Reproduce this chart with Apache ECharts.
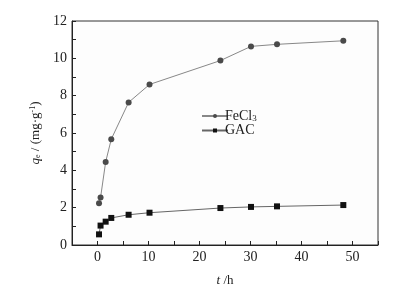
<!DOCTYPE html>
<html lang="en">
<head>
  <meta charset="UTF-8">
  <title>q_e vs t</title>
  <style>
    body { margin: 0; background: #fff; }
    #chart { width: 395px; height: 286px; }
  </style>
</head>
<body>
  <div id="chart"></div>
  <script src="https://cdn.jsdelivr.net/npm/echarts@6/dist/echarts.min.js"></script>
  <script>
    // time (h)
    var timeFe = [0.3, 0.6, 1.6, 2.7, 6.1, 10.2, 24.1, 30.1, 35.2, 48.2]
    var qFe = [2.24, 2.54, 4.45, 5.67, 7.64, 8.6, 9.88, 10.64, 10.75, 10.94]
    var timeGac = [0.3, 0.6, 1.6, 2.7, 6.1, 10.2, 24.1, 30.1, 35.2, 48.2]
    var qGac = [0.57, 1.04, 1.25, 1.45, 1.62, 1.73, 1.98, 2.04, 2.07, 2.14]
    var xTicks = [0, 10, 20, 30, 40, 50]
    var yTicks = [0, 2, 4, 6, 8, 10, 12]

    function pairs(xs, ys) {
      var out = []
      for (var i = 0; i < xs.length; i++) out.push([xs[i], ys[i]])
      return out
    }

    var serif = '"Liberation Serif", "DejaVu Serif", serif'
    var chart = echarts.init(document.getElementById('chart'))
    var option = {
      animation: false,
      grid: {
        left: 72, right: 17, top: 21, bottom: 41,
        outerBoundsMode: 'none',
        show: true, borderColor: '#333', borderWidth: 1, backgroundColor: '#fdfdfd'
      },
      legend: {
        orient: 'vertical',
        left: 196, top: 104,
        itemWidth: 26, itemHeight: 5, itemGap: 0,
        data: ['FeCl3', 'GAC'],
        formatter: function (name) {
          return name === 'FeCl3' ? '{a|FeCl}{s|3}' : '{a|GAC}'
        },
        textStyle: {
          padding: [0, 0, 0, -8],
          rich: {
            a: { fontFamily: serif, fontSize: 14, color: '#222' },
            s: { fontFamily: serif, fontSize: 9, color: '#222', padding: [6, 0, 0, 0] }
          }
        }
      },
      xAxis: {
        type: 'value', min: -5, max: 55, interval: 5,
        name: '{i|t} /h',
        nameLocation: 'middle', nameGap: 29,
        nameTextStyle: {
          fontFamily: serif, fontSize: 13, color: '#222',
          rich: { i: { fontFamily: serif, fontStyle: 'italic', fontSize: 13, color: '#222' } }
        },
        axisLine: { onZero: false, lineStyle: { color: '#222' } },
        axisTick: { inside: true, length: 4, lineStyle: { color: '#222' } },
        splitLine: { show: false },
        axisLabel: {
          fontFamily: serif, fontSize: 14, color: '#222', margin: 5,
          formatter: function (v) { return xTicks.indexOf(v) >= 0 ? String(v) : '' }
        }
      },
      yAxis: {
        type: 'value', min: 0, max: 12, interval: 1,
        name: '{i|q}{s|e} / (mg·g{p|-1})',
        nameLocation: 'middle', nameGap: 30, nameRotate: 90,
        nameTextStyle: {
          fontFamily: serif, fontSize: 13, color: '#222',
          rich: {
            i: { fontFamily: serif, fontStyle: 'italic', fontSize: 13, color: '#222' },
            s: { fontFamily: serif, fontSize: 8, color: '#222', padding: [5, 0, 0, 0] },
            p: { fontFamily: serif, fontSize: 8, color: '#222', padding: [0, 0, 5, 0] }
          }
        },
        axisLine: { show: true, onZero: false, lineStyle: { color: '#222' } },
        axisTick: { show: true, inside: true, length: 4, lineStyle: { color: '#222' } },
        splitLine: { show: false },
        axisLabel: {
          fontFamily: serif, fontSize: 14, color: '#222', margin: 5,
          formatter: function (v) { return yTicks.indexOf(v) >= 0 ? String(v) : '' }
        }
      },
      series: [
        {
          name: 'FeCl3', type: 'line',
          data: pairs(timeFe, qFe),
          symbol: 'circle', symbolSize: 6,
          lineStyle: { color: '#888', width: 1 },
          itemStyle: { color: '#4a4a4a' }
        },
        {
          name: 'GAC', type: 'line',
          data: pairs(timeGac, qGac),
          symbol: 'rect', symbolSize: 6,
          lineStyle: { color: '#666', width: 1 },
          itemStyle: { color: '#111' }
        }
      ]
    }
    chart.setOption(option)
  </script>
</body>
</html>
